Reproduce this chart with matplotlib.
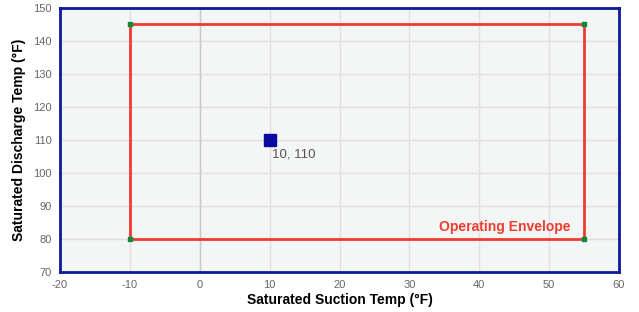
import matplotlib.pyplot as plt
import numpy as np

plt.rcParams['font.family'] = ['Liberation Sans', 'DejaVu Sans']
plt.rcParams['axes.unicode_minus'] = False

# envelope corners (suction, discharge)
env_x = [-10, 55, 55, -10, -10]
env_y = [145, 145, 80, 80, 145]

# operating point
pt_x = [10]
pt_y = [110]

x_ticks = np.arange(-20, 61, 10)
y_ticks = np.arange(70, 151, 10)

fig = plt.figure(figsize=(6.39, 3.12), dpi=100)
ax = fig.add_axes([60 / 639, 40 / 312, 559 / 639, 264 / 312])
ax.set_facecolor('#f4f5f5')

ax.set_xlim(-20, 60)
ax.set_ylim(70, 150)
ax.set_xticks(x_ticks)
ax.set_yticks(y_ticks)
ax.grid(True, color='#e0e0e0', linewidth=1)
ax.axvline(0, color='#c8c8c8', linewidth=1, zorder=1)
ax.set_axisbelow(True)

for s in ax.spines.values():
    s.set_color('#0d1a9a')
    s.set_linewidth(2)

ax.tick_params(length=0, labelsize=8, labelcolor='#666666', pad=6)

ax.plot(env_x, env_y, color='#f03c2e', linewidth=2, zorder=3)
ax.plot(env_x[:4], env_y[:4], 's', color='#0b8a3a', markersize=3, zorder=4)
ax.text(53.1, 83.6, 'Operating Envelope', color='#f03c2e', fontsize=10,
        fontweight='bold', ha='right', va='center')

ax.plot(pt_x, pt_y, 's', color='#0a0aa0', markersize=8, zorder=5)
for x, y in zip(pt_x, pt_y):
    ax.annotate(f'{x}, {y}', (x, y), xytext=(2, -6), textcoords='offset points',
                fontsize=9.5, color='#555555', ha='left', va='top')

ax.set_xlabel('Saturated Suction Temp (°F)', fontsize=10, fontweight='bold', labelpad=2)
ax.set_ylabel('Saturated Discharge Temp (°F)', fontsize=10, fontweight='bold', labelpad=5)

fig.savefig('out.png', dpi=100)
